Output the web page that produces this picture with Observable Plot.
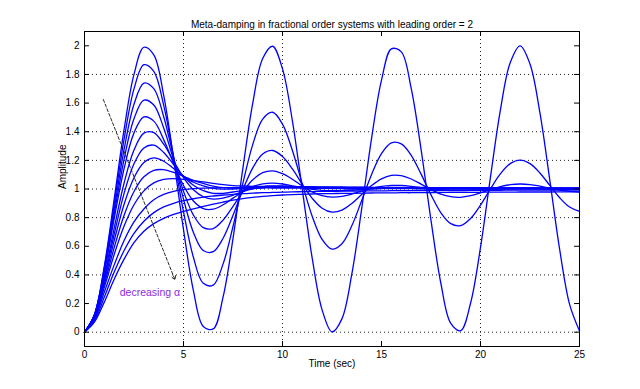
<!DOCTYPE html>
<html><head><meta charset="utf-8">
<script src="https://cdn.jsdelivr.net/npm/d3@7"></script>
<script src="https://cdn.jsdelivr.net/npm/@observablehq/plot@0.6"></script>
<style>body{margin:0;background:#fff}</style>
</head><body><div id="chart"></div>
<script>
// time samples (sec)
const time = [0,0.5,1,1.5,2,2.5,3,3.5,4,4.5,5,5.5,6,6.5,7,7.5,8,8.5,9,9.5,10,10.5,11,11.5,12,12.5,13,13.5,14,14.5,15,15.5,16,16.5,17,17.5,18,18.5,19,19.5,20,20.5,21,21.5,22,22.5,23,23.5,24,24.5,25];

// step responses (from least to most damped)
const yA = [0,0.122,0.460,0.929,1.416,1.801,1.990,1.937,1.654,1.211,0.716,0.291,0.040,0.023,0.246,0.653,1.146,1.602,1.911,1.997,1.839,1.476,0.996,0.517,0.156,0.002,0.093,0.405,0.863,1.355,1.760,1.979,1.958,1.702,1.275,0.781,0.340,0.061,0.011,0.204,0.592,1.080,1.548,1.882,2.000,1.873,1.533,1.062,0.576,0.194,0.009];
const yB = [0,0.121,0.448,0.894,1.348,1.699,1.868,1.822,1.584,1.226,0.842,0.523,0.341,0.329,0.477,0.738,1.041,1.312,1.488,1.536,1.453,1.269,1.035,0.810,0.648,0.580,0.618,0.743,0.920,1.102,1.247,1.322,1.315,1.235,1.104,0.959,0.834,0.758,0.745,0.794,0.887,1.000,1.105,1.177,1.202,1.177,1.112,1.025,0.939,0.874,0.844];
const yC = [0,0.120,0.436,0.858,1.276,1.592,1.740,1.701,1.505,1.222,0.929,0.697,0.570,0.562,0.656,0.816,0.995,1.148,1.244,1.269,1.227,1.140,1.033,0.935,0.866,0.839,0.853,0.899,0.962,1.024,1.071,1.095,1.093,1.070,1.034,0.996,0.964,0.946,0.942,0.953,0.973,0.996,1.017,1.030,1.035,1.031,1.020,1.006,0.993,0.984,0.979];
const yD = [0,0.119,0.427,0.825,1.209,1.491,1.620,1.587,1.426,1.204,0.984,0.818,0.730,0.724,0.783,0.879,0.981,1.064,1.114,1.127,1.107,1.068,1.021,0.980,0.953,0.943,0.948,0.964,0.985,1.004,1.018,1.025,1.025,1.019,1.010,1.000,0.993,0.989,0.989,0.991,0.994,0.999,1.002,1.004,1.005,1.005,1.003,1.001,0.999,0.998,0.998];
const yE = [0,0.119,0.418,0.793,1.143,1.392,1.503,1.474,1.345,1.178,1.024,0.916,0.863,0.859,0.890,0.936,0.982,1.017,1.036,1.041,1.035,1.022,1.009,0.998,0.991,0.988,0.989,0.993,0.996,1.000,1.002,1.003,1.003,1.002,1.001,1.000,1.000,1.000,1.000,1.000,1.000,1.000,1.000,1.000,1.000,1.000,1.000,1.000,1.000,1.000,1.000];
const yF = [0,0.113,0.388,0.727,1.042,1.272,1.390,1.394,1.313,1.195,1.080,0.995,0.946,0.929,0.937,0.957,0.982,1.001,1.015,1.021,1.022,1.019,1.013,1.008,1.005,1.003,1.002,1.001,1.002,1.003,1.004,1.004,1.004,1.004,1.004,1.003,1.003,1.003,1.003,1.003,1.003,1.003,1.003,1.003,1.003,1.003,1.003,1.003,1.002,1.002,1.002];
const yG = [0,0.110,0.372,0.684,0.969,1.176,1.287,1.306,1.255,1.171,1.089,1.026,0.988,0.970,0.970,0.979,0.991,1.002,1.010,1.014,1.016,1.015,1.012,1.010,1.008,1.006,1.007,1.007,1.006,1.006,1.006,1.006,1.006,1.005,1.005,1.005,1.005,1.005,1.005,1.005,1.005,1.004,1.004,1.004,1.004,1.004,1.004,1.004,1.004,1.004,1.004];
const yH = [0,0.108,0.353,0.639,0.894,1.079,1.185,1.218,1.194,1.143,1.090,1.047,1.021,1.004,0.999,1.000,1.004,1.008,1.010,1.012,1.012,1.012,1.011,1.010,1.010,1.010,1.009,1.009,1.009,1.008,1.008,1.008,1.008,1.007,1.007,1.007,1.007,1.006,1.006,1.006,1.006,1.006,1.006,1.006,1.005,1.005,1.005,1.005,1.005,1.005,1.005];
const yI = [0,0.105,0.334,0.591,0.817,0.983,1.085,1.130,1.135,1.116,1.089,1.061,1.039,1.020,1.009,1.006,1.006,1.008,1.010,1.013,1.014,1.014,1.015,1.013,1.013,1.012,1.012,1.011,1.011,1.010,1.010,1.010,1.009,1.009,1.009,1.009,1.008,1.008,1.008,1.008,1.008,1.007,1.007,1.007,1.007,1.007,1.007,1.006,1.006,1.006,1.006];
const yJ = [0,0.102,0.313,0.543,0.741,0.890,0.987,1.043,1.067,1.072,1.067,1.059,1.050,1.039,1.030,1.024,1.021,1.019,1.019,1.019,1.018,1.017,1.016,1.016,1.015,1.014,1.014,1.013,1.013,1.012,1.012,1.012,1.011,1.011,1.011,1.010,1.010,1.010,1.009,1.009,1.009,1.009,1.009,1.008,1.008,1.008,1.008,1.008,1.008,1.007,1.007];
const yK = [0,0.09,0.28,0.47,0.64,0.77,0.86,0.925,0.962,0.983,0.995,1.002,1.006,1.008,1.009,1.009,1.009,1.008,1.008,1.007,1.007,1.006,1.006,1.005,1.005,1.005,1.004,1.004,1.004,1.004,1.004,1.004,1.004,1.004,1.003,1.003,1.003,1.003,1.003,1.003,1.003,1.003,1.003,1.002,1.002,1.002,1.002,1.002,1.002,1.002,1.002];
const yL = [0,0.08,0.245,0.42,0.57,0.69,0.775,0.835,0.875,0.90,0.918,0.932,0.943,0.951,0.958,0.963,0.967,0.971,0.974,0.976,0.978,0.980,0.981,0.982,0.983,0.984,0.985,0.986,0.986,0.987,0.987,0.988,0.988,0.989,0.989,0.989,0.990,0.990,0.990,0.991,0.991,0.991,0.991,0.992,0.992,0.992,0.992,0.992,0.993,0.993,0.993];
const yM = [0,0.07,0.21,0.37,0.51,0.625,0.705,0.758,0.795,0.822,0.843,0.862,0.879,0.895,0.909,0.922,0.933,0.942,0.949,0.954,0.958,0.961,0.963,0.965,0.967,0.968,0.969,0.970,0.971,0.972,0.973,0.973,0.974,0.974,0.975,0.975,0.976,0.976,0.977,0.977,0.977,0.978,0.978,0.978,0.979,0.979,0.979,0.979,0.980,0.980,0.980];

const seriesNames = ["A","B","C","D","E","F","G","H","I","J","K","L","M"];
const seriesValues = [yA,yB,yC,yD,yE,yF,yG,yH,yI,yJ,yK,yL,yM];

// axes
const xTicks = [0,5,10,15,20,25];
const yTicks = [0,0.2,0.4,0.6,0.8,1,1.2,1.4,1.6,1.8,2];
const xGrid = [5,10,20];
const yGrid = [0,0.4,0.8,1,1.2,1.4,1.8];

// texts
const titleText = ["Meta-damping in fractional order systems with leading order = 2"];
const xLabel = ["Time (sec)"];
const yLabel = ["Amplitude"];
const annotation = [{t: 1.78, y: 0.275, text: "decreasing \u03b1"}];
const arrowLine = [{x1: 0.95, y1: 1.625, x2: 4.57, y2: 0.366}];

const rows = seriesValues.flatMap((vals, k) =>
  vals.map((v, i) => ({t: time[i], y: v, series: seriesNames[k]})));

const chart = Plot.plot({
  width: 640, height: 389,
  marginLeft: 84, marginRight: 61, marginTop: 31, marginBottom: 43,
  x: {domain: [0, 25]},
  y: {domain: [-0.1, 2.1]},
  style: {fontFamily: "'Liberation Sans', Arial, Helvetica, sans-serif", fontSize: "10px", color: "#000", background: "#fff"},
  marks: [
    Plot.ruleX(xGrid, {stroke: "#222", strokeDasharray: "1,3", strokeWidth: 1}),
    Plot.ruleY(yGrid, {stroke: "#222", strokeDasharray: "1,3", strokeWidth: 1}),
    Plot.line(rows, {x: "t", y: "y", z: "series", stroke: "#0000ff", strokeWidth: 1.3, curve: "catmull-rom"}),
    Plot.arrow(arrowLine, {x1: "x1", y1: "y1", x2: "x2", y2: "y2", stroke: "#111", strokeWidth: 0.9, strokeDasharray: "3,2", headLength: 7}),
    Plot.text(annotation, {x: "t", y: "y", text: "text", textAnchor: "start", fill: "#8a2be2", fontSize: 10.5}),
    Plot.ruleX(xTicks, {y1: -0.1, y2: -0.065, stroke: "#000"}),
    Plot.ruleX(xTicks, {y1: 2.1, y2: 2.065, stroke: "#000"}),
    Plot.ruleY(yTicks, {x1: 0, x2: 0.25, stroke: "#000"}),
    Plot.ruleY(yTicks, {x1: 25, x2: 24.75, stroke: "#000"}),
    Plot.frame({stroke: "#000", strokeWidth: 1}),
    Plot.axisX({ticks: xTicks, anchor: "bottom", tickSize: 0, tickPadding: 4, label: null, tickFormat: d => String(d)}),
    Plot.axisY({ticks: yTicks, anchor: "left", tickSize: 0, tickPadding: 5, label: null, tickFormat: d => String(d)}),
    Plot.text(titleText, {text: d => d, frameAnchor: "top", dy: -11, fontSize: 10}),
    Plot.text(xLabel, {text: d => d, frameAnchor: "bottom", dy: 20, fontSize: 10}),
    Plot.text(yLabel, {text: d => d, frameAnchor: "left", dx: -22, rotate: -90, fontSize: 10})
  ]
});
document.getElementById("chart").appendChild(chart);
</script>
</body></html>
